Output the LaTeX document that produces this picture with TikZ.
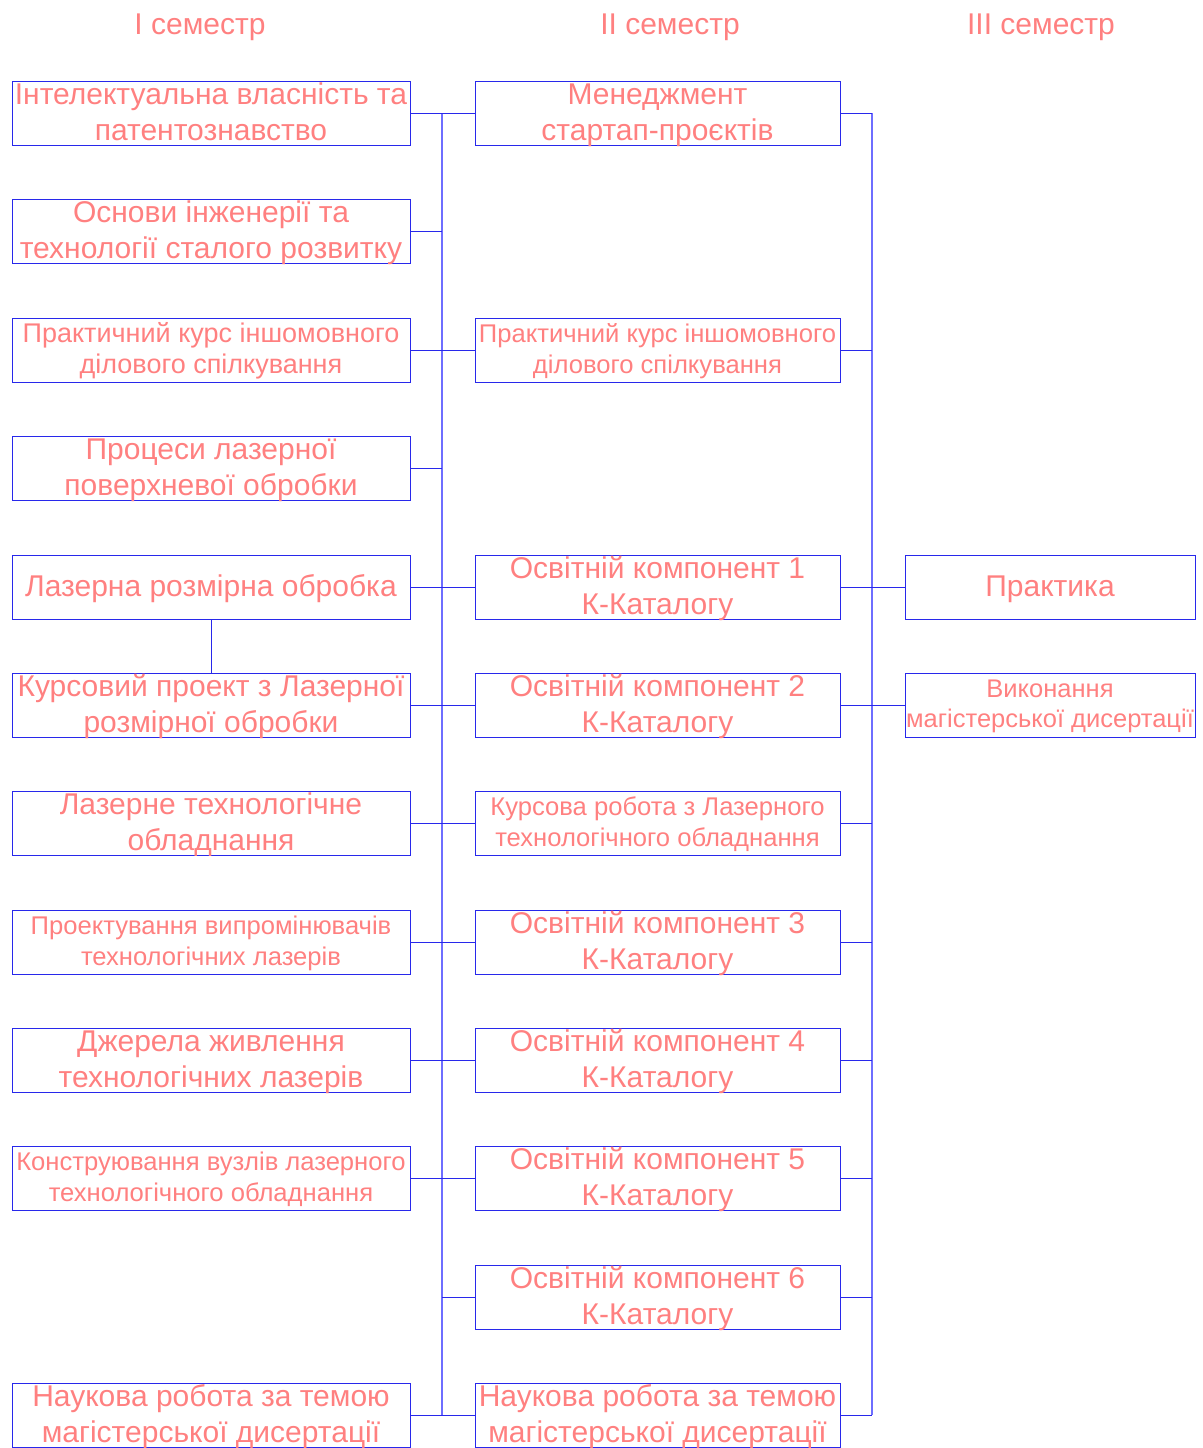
\documentclass[tikz,border=0pt]{standalone}
\usepackage{fontspec}
\setmainfont{Liberation Sans}
\definecolor{txt}{RGB}{255,128,128}
\definecolor{ln}{RGB}{40,40,235}
\definecolor{tr}{RGB}{110,110,255}
\newcommand\fs[2]{\fontsize{#1}{#2}\selectfont}
\begin{document}
\begin{tikzpicture}[x=1pt,y=-1pt,
  boxst/.style={draw=ln, line width=1pt, minimum height=64pt, inner sep=0pt, outer sep=0pt},
  cA/.style={boxst, minimum width=398pt},
  cB/.style={boxst, minimum width=365pt},
  cC/.style={boxst, minimum width=290pt},
  tL/.style={text=txt, align=center, inner sep=0pt, yshift=-2pt, font=\fs{30}{36}},
  tM/.style={text=txt, align=center, inner sep=0pt, yshift=-2pt, font=\fs{27}{31}},
  tS/.style={text=txt, align=center, inner sep=0pt, yshift=-2pt, font=\fs{25.6}{31}},
  tXS/.style={text=txt, align=center, inner sep=0pt, yshift=-1pt, font=\fs{25.5}{30}},
  hd/.style={text=txt, inner sep=0pt, font=\fs{30}{36}},
  conn/.style={draw=ln, line width=1pt},
  trunk/.style={draw=tr, line width=1.6pt}]
\useasboundingbox (0,0) rectangle (1202,1448);

% headers
\node[hd] (h1) at (200,27) {I семестр};
\node[hd] (h2) at (670,27) {II семестр};
\node[hd] (h3) at (1041,27) {III семестр};

% column 1
\node[cA] (a1) at (211,113) {};
\node[tL] (ta1) at (a1.center) {\strut Інтелектуальна власність та\\\strut патентознавство};
\node[cA] (a2) at (211,231) {};
\node[tL] (ta2) at (a2.center) {\strut Основи інженерії та\\\strut технології сталого розвитку};
\node[cA] (a3) at (211,350) {};
\node[tM] (ta3) at (a3.center) {\strut Практичний курс іншомовного\\\strut ділового спілкування};
\node[cA] (a4) at (211,468) {};
\node[tL] (ta4) at (a4.center) {\strut Процеси лазерної\\\strut поверхневої обробки};
\node[cA] (a5) at (211,587) {};
\node[tL] (ta5) at (a5.center) {\strut Лазерна розмірна обробка};
\node[cA] (a6) at (211,705) {};
\node[tL] (ta6) at (a6.center) {\strut Курсовий проект з Лазерної\\\strut розмірної обробки};
\node[cA] (a7) at (211,823) {};
\node[tL] (ta7) at (a7.center) {\strut Лазерне технологічне\\\strut обладнання};
\node[cA] (a8) at (211,942) {};
\node[tS] (ta8) at (a8.center) {\strut Проектування випромінювачів\\\strut технологічних лазерів};
\node[cA] (a9) at (211,1060) {};
\node[tL] (ta9) at (a9.center) {\strut Джерела живлення\\\strut технологічних лазерів};
\node[cA] (a10) at (211,1178) {};
\node[tS] (ta10) at (a10.center) {\strut Конструювання вузлів лазерного\\\strut технологічного обладнання};
\node[cA] (a12) at (211,1415) {};
\node[tL] (ta12) at (a12.center) {\strut Наукова робота за темою\\\strut магістерської дисертації};

% column 2
\node[cB] (b1) at (657.5,113) {};
\node[tL] (tb1) at (b1.center) {\strut Менеджмент\\\strut стартап-проєктів};
\node[cB] (b3) at (657.5,350) {};
\node[tS] (tb3) at (b3.center) {\strut Практичний курс іншомовного\\\strut ділового спілкування};
\node[cB] (b5) at (657.5,587) {};
\node[tL] (tb5) at (b5.center) {\strut Освітній компонент 1\\\strut К-Каталогу};
\node[cB] (b6) at (657.5,705) {};
\node[tL] (tb6) at (b6.center) {\strut Освітній компонент 2\\\strut К-Каталогу};
\node[cB] (b7) at (657.5,823) {};
\node[tS] (tb7) at (b7.center) {\strut Курсова робота з Лазерного\\\strut технологічного обладнання};
\node[cB] (b8) at (657.5,942) {};
\node[tL] (tb8) at (b8.center) {\strut Освітній компонент 3\\\strut К-Каталогу};
\node[cB] (b9) at (657.5,1060) {};
\node[tL] (tb9) at (b9.center) {\strut Освітній компонент 4\\\strut К-Каталогу};
\node[cB] (b10) at (657.5,1178) {};
\node[tL] (tb10) at (b10.center) {\strut Освітній компонент 5\\\strut К-Каталогу};
\node[cB] (b11) at (657.5,1297) {};
\node[tL] (tb11) at (b11.center) {\strut Освітній компонент 6\\\strut К-Каталогу};
\node[cB] (b12) at (657.5,1415) {};
\node[tL] (tb12) at (b12.center) {\strut Наукова робота за темою\\\strut магістерської дисертації};

% column 3
\node[cC] (c5) at (1050,587) {};
\node[tL] (tc5) at (c5.center) {\strut Практика};
\node[cC] (c6) at (1050,705) {};
\node[tXS] (tc6) at (c6.center) {\strut Виконання\\\strut магістерської дисертації};

% trunks
\coordinate (T1) at (442,0);
\coordinate (T2) at (872,0);
\draw[trunk] (a1.east -| T1) -- (a12.east -| T1);
\draw[trunk] (b1.east -| T2) -- (b12.east -| T2);

% connectors
\foreach \n in {a1,a2,a3,a4,a5,a6,a7,a8,a9,a10,a12}
  \draw[conn] (\n.east) -- (\n.east -| T1);
\foreach \n in {b1,b3,b5,b6,b7,b8,b9,b10,b11,b12}{
  \draw[conn] (\n.west) -- (\n.west -| T1);
  \draw[conn] (\n.east) -- (\n.east -| T2);
}
\foreach \n in {c5,c6}
  \draw[conn] (\n.west) -- (\n.west -| T2);
\draw[conn] (a5.south) -- (a6.north);
\end{tikzpicture}
\end{document}
